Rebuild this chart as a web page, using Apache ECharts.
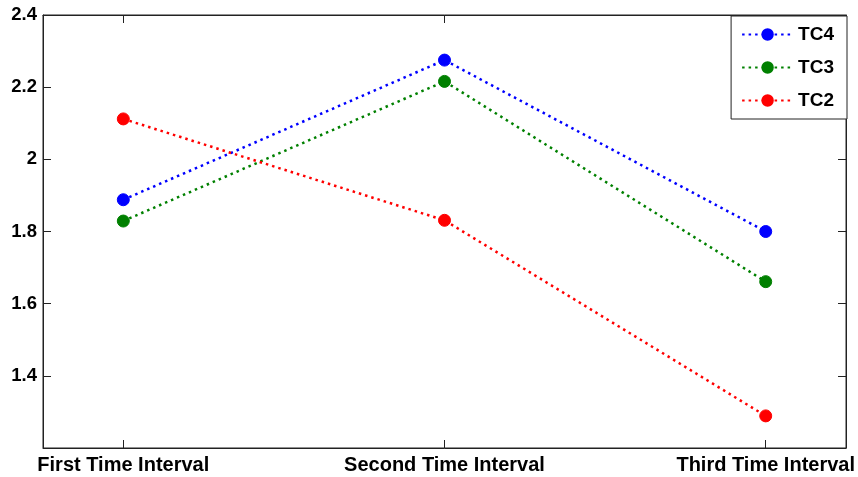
<!DOCTYPE html>
<html>
<head>
<meta charset="utf-8">
<script src="https://cdn.jsdelivr.net/npm/echarts@6/dist/echarts.min.js"></script>
<style>html,body{margin:0;padding:0;background:#fff}#c{width:858px;height:477px}</style>
</head>
<body>
<div id="c"></div>
<script>
const categories = ['First Time Interval', 'Second Time Interval', 'Third Time Interval'];
const seriesNames = ['TC4', 'TC3', 'TC2'];
const tc4 = [1.888, 2.275, 1.800];
const tc3 = [1.829, 2.216, 1.661];
const tc2 = [2.112, 1.831, 1.289];
const yTicks = [1.2, 1.4, 1.6, 1.8, 2.0, 2.2, 2.4];
const colors = ['#0000ff', '#008000', '#ff0000'];

const positions = categories.map((_, i) => i + 1);
const allData = [tc4, tc3, tc2];
const FONT = 'Liberation Sans, Arial, sans-serif';

const chart = echarts.init(document.getElementById('c'));
const series = seriesNames.map((name, k) => ({
  name: name,
  type: 'line',
  data: allData[k].map((v, i) => [positions[i], v]),
  symbol: 'circle',
  symbolSize: 12,
  itemStyle: { color: colors[k], borderColor: colors[k], borderWidth: 1 },
  lineStyle: { color: colors[k], width: 2.5, type: [2.5, 4] },
  emphasis: { disabled: true },
  animation: false,
  z: 3
}));

chart.setOption({
  animation: false,
  grid: { left: 43, right: 11, top: 15, bottom: 29, show: true, borderColor: '#222', borderWidth: 1, backgroundColor: 'transparent' },
  legend: {
    data: seriesNames,
    orient: 'vertical',
    right: 11,
    top: 16,
    itemWidth: 51,
    itemHeight: 13,
    itemGap: 14,
    padding: [9, 13, 9, 10],
    borderColor: '#222',
    borderWidth: 1,
    backgroundColor: '#fff',
    textStyle: { fontFamily: FONT, fontWeight: 'bold', fontSize: 19, color: '#000' }
  },
  xAxis: [{
    type: 'value',
    min: 0.75,
    max: 3.25,
    interval: 0.25,
    axisLine: { show: true, onZero: false, lineStyle: { color: '#222', width: 1 } },
    axisTick: { show: true, inside: true, length: 8, customValues: positions, lineStyle: { color: '#222' } },
    axisLabel: {
      customValues: positions,
      formatter: v => categories[Math.round(v) - 1] || '',
      fontFamily: FONT, fontWeight: 'bold', fontSize: 20, color: '#000', margin: 7
    },
    splitLine: { show: false }
  }, {
    type: 'value',
    position: 'top',
    min: 0.75,
    max: 3.25,
    interval: 0.25,
    axisLine: { show: true, onZero: false, lineStyle: { color: '#222', width: 1 } },
    axisTick: { show: true, inside: true, length: 8, customValues: positions, lineStyle: { color: '#222' } },
    axisLabel: { show: false },
    splitLine: { show: false }
  }],
  yAxis: [{
    type: 'value',
    min: 1.2,
    max: 2.4,
    interval: 0.2,
    axisLine: { show: true, onZero: false, lineStyle: { color: '#222', width: 1 } },
    axisTick: { show: true, inside: true, length: 8, customValues: yTicks, lineStyle: { color: '#222' } },
    axisLabel: {
      customValues: yTicks.slice(1),
      formatter: v => String(Math.round(v * 10) / 10),
      fontFamily: FONT, fontWeight: 'bold', fontSize: 18.5, color: '#000', margin: 6
    },
    splitLine: { show: false }
  }, {
    type: 'value',
    position: 'right',
    min: 1.2,
    max: 2.4,
    interval: 0.2,
    axisLine: { show: true, onZero: false, lineStyle: { color: '#222', width: 1 } },
    axisTick: { show: true, inside: true, length: 8, customValues: yTicks, lineStyle: { color: '#222' } },
    axisLabel: { show: false },
    splitLine: { show: false }
  }],
  series: series
});
</script>
</body>
</html>
